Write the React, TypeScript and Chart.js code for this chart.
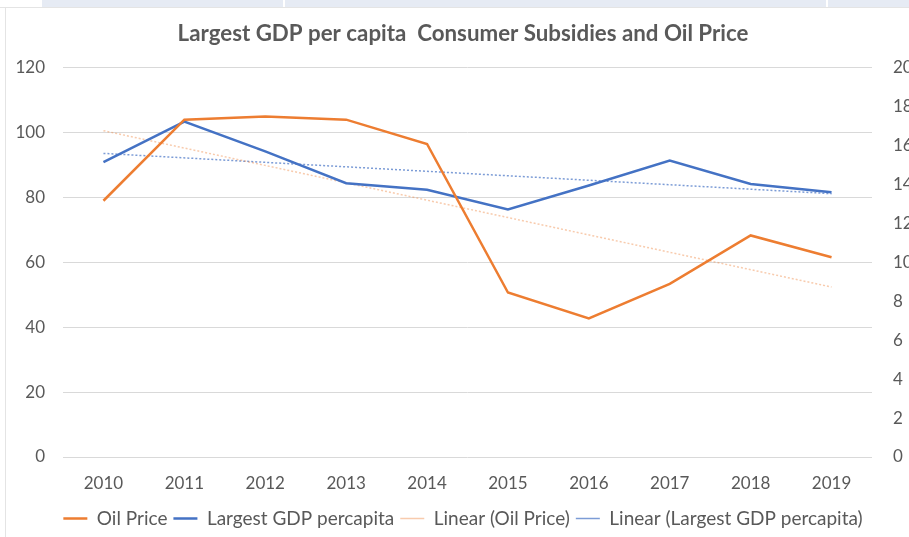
import React, { useEffect, useRef } from "react";
import { Chart, registerables } from "chart.js";

Chart.register(...registerables);

const years = ["2010", "2011", "2012", "2013", "2014", "2015", "2016", "2017", "2018", "2019"];
const oilPrice = [79, 104, 105, 104, 96.5, 50.7, 42.7, 53.4, 68.3, 61.6];
const gdpPerCapita = [15.15, 17.23, 15.7, 14.07, 13.73, 12.72, 13.95, 15.23, 14.03, 13.6];
const oilTrend = [100.6, null, null, null, null, null, null, null, null, 52.4];
const gdpTrend = [15.6, null, null, null, null, null, null, null, null, 13.53];
const titleText = "Largest GDP per capita  Consumer Subsidies and Oil Price";

const FONT = "Lato";

export default function App() {
  const ref = useRef<HTMLCanvasElement | null>(null);
  useEffect(() => {
    if (!ref.current) return;
    const chart = new Chart(ref.current, {
      type: "line",
      data: {
        labels: years,
        datasets: [
          {
            label: "Oil Price",
            data: oilPrice,
            borderColor: "#ED7D31",
            backgroundColor: "#ED7D31",
            borderWidth: 2.5,
            pointRadius: 0,
            tension: 0,
            yAxisID: "y",
            pointStyle: "line",
          },
          {
            label: "Largest GDP percapita",
            data: gdpPerCapita,
            borderColor: "#4472C4",
            backgroundColor: "#4472C4",
            borderWidth: 2.5,
            pointRadius: 0,
            tension: 0,
            yAxisID: "y1",
            pointStyle: "line",
          },
          {
            label: "Linear (Oil Price)",
            data: oilTrend,
            borderColor: "rgba(237,125,49,0.4)",
            backgroundColor: "rgba(237,125,49,0.4)",
            borderWidth: 1.5,
            borderDash: [2, 2],
            pointRadius: 0,
            spanGaps: true,
            yAxisID: "y",
            pointStyle: "line",
          },
          {
            label: "Linear (Largest GDP percapita)",
            data: gdpTrend,
            borderColor: "rgba(68,114,196,0.7)",
            backgroundColor: "rgba(68,114,196,0.7)",
            borderWidth: 1.5,
            borderDash: [2, 2],
            pointRadius: 0,
            spanGaps: true,
            yAxisID: "y1",
            pointStyle: "line",
          },
        ],
      },
      options: {
        animation: false,
        responsive: false,
        maintainAspectRatio: false,
        layout: { padding: { left: 0, top: 0, bottom: 0, right: 14 } },
        plugins: {
          tooltip: { enabled: false },
          title: {
            display: true,
            text: titleText,
            color: "#595959",
            font: { family: FONT, size: 22.3, weight: "bold" },
            padding: { top: 12, bottom: 21 },
          },
          legend: {
            position: "bottom",
            labels: {
              usePointStyle: true,
              pointStyleWidth: 24,
              color: "#595959",
              padding: 6,
              font: { family: FONT, size: 19 },
            },
          },
        },
        scales: {
          x: {
            offset: true,
            grid: { display: false, drawTicks: false },
            border: { display: false },
            ticks: { color: "#595959", padding: 16, font: { family: FONT, size: 17 } },
            afterFit: (s: any) => {
              s.height = 46;
            },
          },
          y: {
            position: "left",
            min: 0,
            max: 120,
            ticks: { stepSize: 20, color: "#595959", padding: 18, font: { family: FONT, size: 17 } },
            grid: { color: "#d9d9d9", drawTicks: false },
            border: { display: false },
            afterFit: (s: any) => {
              s.width = 63;
            },
          },
          y1: {
            position: "right",
            min: 0,
            max: 20,
            ticks: { stepSize: 2, color: "#595959", padding: 21, font: { family: FONT, size: 17 } },
            grid: { display: false, drawTicks: false },
            border: { display: false },
            afterFit: (s: any) => {
              s.width = 54;
            },
          },
        },
      },
    });
    return () => chart.destroy();
  }, []);

  return (
    <div
      style={{
        position: "fixed",
        left: 0,
        top: 0,
        width: 909,
        height: 537,
        overflow: "hidden",
        background: "#ffffff",
      }}
    >
      <div style={{ position: "absolute", left: 42, top: 0, width: 867, height: 7, background: "#e6ebf4" }} />
      <div style={{ position: "absolute", left: 283, top: 0, width: 2, height: 7, background: "#ffffff" }} />
      <div style={{ position: "absolute", left: 826, top: 0, width: 2, height: 7, background: "#ffffff" }} />
      <div style={{ position: "absolute", left: 0, top: 7, width: 909, height: 1, background: "#e4e4e4" }} />
      <div style={{ position: "absolute", left: 5, top: 8, width: 1, height: 529, background: "#e4e4e4" }} />
      <div style={{ position: "absolute", left: 0, top: 8 }}>
        <canvas ref={ref} width={940} height={530} style={{ width: 940, height: 530, display: "block" }} />
      </div>
    </div>
  );
}
